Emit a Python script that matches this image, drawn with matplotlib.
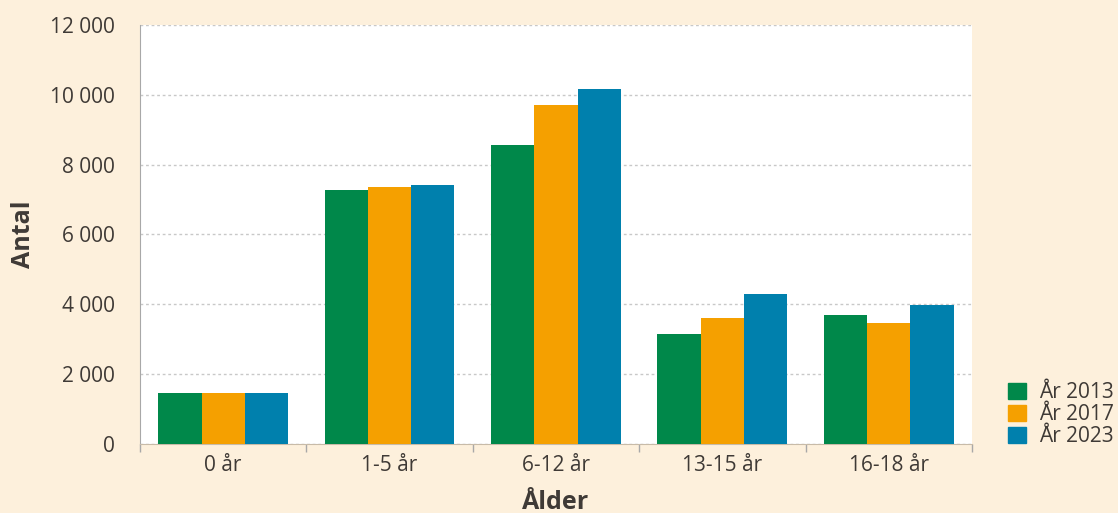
import numpy as np
import matplotlib.pyplot as plt
from matplotlib.patches import Patch
from matplotlib.ticker import FuncFormatter, FixedLocator

plt.rcParams['font.family'] = ['Open Sans', 'DejaVu Sans']

categories = ['0 år', '1-5 år', '6-12 år', '13-15 år', '16-18 år']
series_names = ['År 2013', 'År 2017', 'År 2023']
v2013 = [1470, 7280, 8560, 3150, 3690]
v2017 = [1470, 7350, 9710, 3610, 3460]
v2023 = [1470, 7420, 10170, 4290, 3980]
colors = ['#00884A', '#F5A000', '#0080AD']

bg = '#FDF0DC'
txt = '#3F3A36'

fig = plt.figure(figsize=(11.18, 5.13), dpi=100, facecolor=bg)
ax = fig.add_axes([0.1252, 0.1345, 0.7442, 0.8168])
ax.set_facecolor('white')

x = np.arange(len(categories))
w = 0.26
for i, (vals, c) in enumerate(zip([v2013, v2017, v2023], colors)):
    ax.bar(x + (i - 1) * w, vals, width=w, color=c, zorder=3)

ax.set_xlim(-0.5, len(categories) - 0.5)
ax.set_ylim(0, 12000)
ax.set_yticks(np.arange(0, 12001, 2000))
ax.yaxis.set_major_formatter(FuncFormatter(lambda v, p: f'{int(v):,}'.replace(',', ' ')))
ax.grid(axis='y', color='#C8C8C8', linestyle=(0, (2, 2)), linewidth=1, zorder=0)

ax.set_xticks(x)
ax.set_xticklabels(categories)
ax.xaxis.set_minor_locator(FixedLocator(np.arange(-0.5, len(categories), 1)))
ax.tick_params(axis='x', which='major', length=0, pad=8, labelsize=15, labelcolor=txt)
ax.tick_params(axis='x', which='minor', length=6, color='#A8A8A8', width=1)
ax.tick_params(axis='y', length=0, pad=18, labelsize=15, labelcolor=txt)

for s in ['top', 'right']:
    ax.spines[s].set_visible(False)
ax.spines['left'].set_color('#A8A8A8')
ax.spines['bottom'].set_color('#C8BBA8')

ax.set_ylabel('Antal', fontsize=18, fontweight='bold', color=txt, labelpad=10)
ax.set_xlabel('Ålder', fontsize=18, fontweight='bold', color=txt, labelpad=10)

handles = [Patch(color=c, label=n) for c, n in zip(colors, series_names)]
fig.legend(handles=handles, loc='lower left', bbox_to_anchor=(0.902, 0.128),
           frameon=False, fontsize=15, labelcolor=txt, handlelength=0.82,
           handleheight=0.82, handletextpad=0.65, labelspacing=0.05,
           borderpad=0, borderaxespad=0)

fig.savefig('out.png', dpi=100, facecolor=bg)
